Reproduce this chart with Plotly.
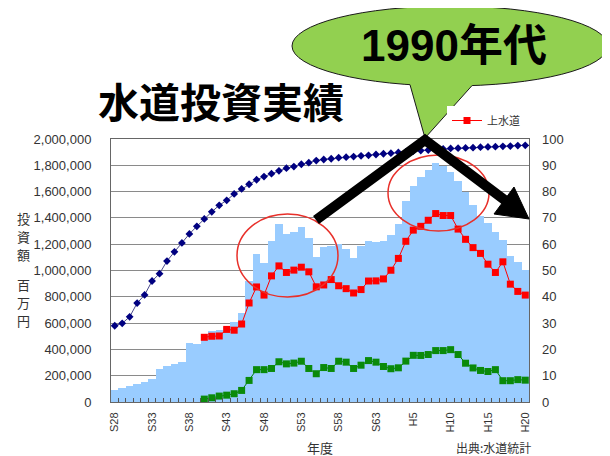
import plotly.graph_objects as go

# ---------------- data ----------------
categories = [
    "S28", "S29", "S30", "S31", "S32", "S33", "S34", "S35", "S36", "S37",
    "S38", "S39", "S40", "S41", "S42", "S43", "S44", "S45", "S46", "S47",
    "S48", "S49", "S50", "S51", "S52", "S53", "S54", "S55", "S56", "S57",
    "S58", "S59", "S60", "S61", "S62", "S63", "H1", "H2", "H3", "H4",
    "H5", "H6", "H7", "H8", "H9", "H10", "H11", "H12", "H13", "H14",
    "H15", "H16", "H17", "H18", "H19", "H20",
]
tick_labels = ["S28", "S33", "S38", "S43", "S48", "S53", "S58", "S63",
               "H5", "H10", "H15", "H20"]

# total water investment (million yen) - bars
total_investment = [
    93000, 106000, 121000, 134000, 151000, 177000, 252000, 272000, 290000, 303000,
    446000, 441000, 517000, 537000, 545000, 567000, 610000, 675000, 921000, 1125000,
    1060000, 1224000, 1350000, 1277000, 1294000, 1334000, 1246000, 1100000, 1182000, 1187000,
    1199000, 1162000, 1098000, 1187000, 1225000, 1220000, 1228000, 1268000, 1351000, 1528000,
    1641000, 1712000, 1762000, 1820000, 1791000, 1747000, 1678000, 1596000, 1500000, 1416000,
    1359000, 1293000, 1230000, 1110000, 1062000, 1003000,
]

# 上水道 investment (million yen) - red
josuido = [
    None, None, None, None, None, None, None, None, None, None,
    None, None, 492000, 500000, 502000, 552000, 546000, 593000, 753000, 875000,
    813000, 959000, 1035000, 985000, 1003000, 1025000, 990000, 876000, 890000, 931000,
    884000, 862000, 829000, 855000, 920000, 921000, 936000, 1002000, 1092000, 1222000,
    1307000, 1336000, 1382000, 1433000, 1418000, 1418000, 1315000, 1237000, 1174000, 1130000,
    1048000, 985000, 1066000, 896000, 841000, 813000,
]

# other water investment (million yen) - green
other_water = [
    None, None, None, None, None, None, None, None, None, None,
    None, None, 22000, 32000, 45000, 52000, 63000, 88000, 164000, 246000,
    246000, 255000, 306000, 290000, 296000, 310000, 255000, 215000, 262000, 255000,
    310000, 303000, 255000, 280000, 315000, 303000, 270000, 253000, 260000, 311000,
    355000, 354000, 361000, 391000, 391000, 398000, 361000, 295000, 259000, 240000,
    232000, 246000, 162000, 162000, 170000, 166000,
]

# water supply penetration rate (%) - navy, right axis
penetration = [
    29.0, 29.9, 32.4, 37.6, 40.7, 46.0, 48.8, 53.6, 57.1, 60.5,
    63.9, 66.8, 69.6, 72.3, 74.8, 76.7, 79.1, 81.0, 82.8, 84.5,
    85.7, 86.8, 87.9, 88.9, 89.5, 90.4, 91.0, 91.8, 92.2, 92.5,
    92.9, 93.1, 93.3, 93.6, 93.8, 94.1, 94.4, 94.6, 94.9, 95.1,
    95.4, 95.6, 95.8, 96.0, 96.2, 96.4, 96.5, 96.6, 96.7, 96.9,
    97.0, 97.1, 97.2, 97.3, 97.5, 97.6,
]

# ---------------- geometry (page pixels; the page body has an 8px margin) ----------------
OFF = 8
W, H = 610 - OFF, 456 - OFF
PL, PR, PT, PB = 111, 529, 139, 402   # plot area in page pixels


def px(x):
    return (x - PL) / (PR - PL)


def py(y):
    return (PB - y) / (PB - PT)


CJK = "Noto Sans CJK JP"
LAT = "Liberation Sans, Arial, Noto Sans CJK JP"

fig = go.Figure()
fig.add_trace(go.Bar(
    x=categories, y=total_investment, name="投資額",
    marker=dict(color="#99CCFF", line=dict(width=0)), showlegend=False,
))
fig.add_trace(go.Scatter(
    x=categories, y=josuido, name="上水道", mode="lines+markers",
    line=dict(color="#FF0000", width=1),
    marker=dict(symbol="square", size=7, color="#FF0000"),
))
fig.add_trace(go.Scatter(
    x=categories, y=other_water, name="用水供給", mode="lines+markers",
    line=dict(color="#008000", width=1),
    marker=dict(symbol="square", size=7, color="#0A8A0A"),
    showlegend=False,
))
fig.add_trace(go.Scatter(
    x=categories, y=penetration, name="普及率", yaxis="y2", mode="lines+markers",
    line=dict(color="#4A4A8C", width=1),
    marker=dict(symbol="diamond", size=6, color="#000080"),
    showlegend=False,
))

shapes = []
annotations = []

# red circles
for (x0, y0, x1, y1) in [(237, 214, 338, 297), (388, 155, 489, 231)]:
    shapes.append(dict(type="circle", xref="paper", yref="paper",
                       x0=px(x0), x1=px(x1), y0=py(y1), y1=py(y0),
                       line=dict(color="#E8302A", width=1.5), layer="above"))

# speech bubble
ecx, ecy, erx, ery = 450, 46, 158, 40
shapes.append(dict(type="circle", xref="paper", yref="paper",
                   x0=px(ecx - erx), x1=px(ecx + erx), y0=py(ecy + ery), y1=py(ecy - ery),
                   fillcolor="#92D050", line=dict(color="#1A1A1A", width=1), layer="above"))
tip = (425, 138)
A = (410, 84.7)
B = (472, 85.6)
yin = 76


def ext(p):
    t = (tip[1] - yin) / (tip[1] - p[1])
    return (tip[0] + (p[0] - tip[0]) * t, yin)


Ai, Bi = ext(A), ext(B)
shapes.append(dict(type="path", xref="paper", yref="paper",
                   path=f"M {px(Ai[0])},{py(Ai[1])} L {px(tip[0])},{py(tip[1])} L {px(Bi[0])},{py(Bi[1])} Z",
                   fillcolor="#92D050", line=dict(width=0), layer="above"))
shapes.append(dict(type="path", xref="paper", yref="paper",
                   path=f"M {px(A[0])},{py(A[1])} L {px(tip[0])},{py(tip[1])} L {px(B[0])},{py(B[1])}",
                   fillcolor="rgba(0,0,0,0)", line=dict(color="#1A1A1A", width=1), layer="above"))

# black arrow
shapes.append(dict(type="path", xref="paper", yref="paper",
                   path=f"M {px(316)},{py(220)} L {px(425)},{py(140)} L {px(506)},{py(201)}",
                   fillcolor="rgba(0,0,0,0)", line=dict(color="black", width=10), layer="above"))
shapes.append(dict(type="path", xref="paper", yref="paper",
                   path=f"M {px(494)},{py(214)} L {px(514)},{py(187)} L {px(529)},{py(219)} Z",
                   fillcolor="black", line=dict(color="black", width=1), layer="above"))


def note(text, x, y, size, family=CJK, color="#333333"):
    annotations.append(dict(text=text, xref="paper", yref="paper",
                            x=px(x), y=py(y), xanchor="center", yanchor="middle",
                            showarrow=False, borderpad=0,
                            font=dict(family=family, size=size, color=color)))


note("<b>水道投資実績</b>", 221, 100, 41, color="black")
note("<b>1990年代</b>", 454, 45, 44, family="Liberation Sans, Noto Sans CJK JP", color="black")
for ch, yy in [("投", 218), ("資", 236), ("額", 254), ("百", 284), ("万", 302), ("円", 320)]:
    note(ch, 23, yy, 13)
note("年度", 320, 447, 13)
note("出典:水道統計", 493, 447, 12)

fig.update_layout(
    width=W, height=H,
    margin=dict(l=PL - OFF, r=W - (PR - OFF), t=PT - OFF, b=H - (PB - OFF), pad=0, autoexpand=False),
    paper_bgcolor="white", plot_bgcolor="white",
    bargap=0,
    font=dict(family=LAT, size=13, color="#333333"),
    xaxis=dict(
        type="category", range=[-0.5, len(categories) - 0.5], tickvals=categories,
        ticktext=[c if c in tick_labels else "" for c in categories],
        tickangle=-90, tickson="boundaries", ticks="inside", ticklen=4,
        tickcolor="#555555", tickwidth=1, automargin=False,
        showline=True, linecolor="#666666", linewidth=1, mirror=True,
        showgrid=False, ticklabelstandoff=5,
        tickfont=dict(family=LAT, size=11, color="#333333"),
    ),
    yaxis=dict(
        range=[0, 2000000], dtick=200000, tickformat=",", automargin=False,
        showgrid=True, gridcolor="#8A8A8A", gridwidth=1, zeroline=False,
        showline=True, linecolor="#666666", linewidth=1, mirror=True,
        ticks="", ticklabelstandoff=16,
        tickfont=dict(family=LAT, size=13, color="#333333"),
    ),
    yaxis2=dict(
        overlaying="y", side="right", range=[0, 100], dtick=10, automargin=False,
        showgrid=False, zeroline=False, ticks="", ticklabelstandoff=12,
        tickfont=dict(family=LAT, size=13, color="#333333"),
    ),
    legend=dict(
        x=px(447), y=py(106), xanchor="left", yanchor="top",
        bgcolor="white", font=dict(family=CJK, size=11, color="#333333"),
        borderwidth=0,
    ),
    shapes=shapes,
    annotations=annotations,
)

fig.write_html("out.html")
